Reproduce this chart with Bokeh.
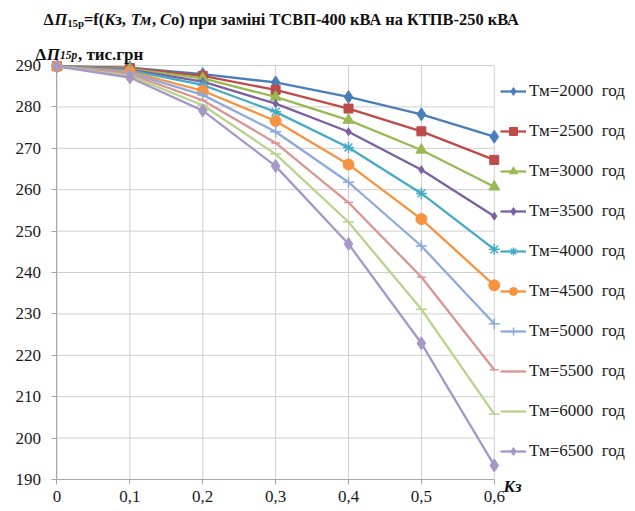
from bokeh.plotting import figure
from bokeh.models import Range1d, FixedTicker, Label, Legend, LegendItem
from bokeh.embed import file_html
from bokeh.resources import INLINE

# ---- data ----
kz = [0, 0.1, 0.2, 0.3, 0.4, 0.5, 0.6]
x_tick_labels = ["0", "0,1", "0,2", "0,3", "0,4", "0,5", "0,6"]
y_ticks = [190, 200, 210, 220, 230, 240, 250, 260, 270, 280, 290]

tm_labels = ["Тм=2000\u00a0 год", "Тм=2500\u00a0 год", "Тм=3000\u00a0 год", "Тм=3500\u00a0 год",
             "Тм=4000\u00a0 год", "Тм=4500\u00a0 год", "Тм=5000\u00a0 год", "Тм=5500\u00a0 год",
             "Тм=6000\u00a0 год", "Тм=6500\u00a0 год"]
tm2000 = [289.8, 289.5, 287.9, 285.9, 282.4, 278.2, 272.8]
tm2500 = [289.8, 289.4, 287.5, 284.1, 279.6, 274.1, 267.2]
tm3000 = [289.8, 289.2, 286.9, 282.4, 276.8, 269.6, 260.7]
tm3500 = [289.8, 289.0, 286.1, 280.8, 274.0, 264.8, 253.6]
tm4000 = [289.8, 288.8, 285.3, 278.8, 270.2, 259.1, 245.6]
tm4500 = [289.8, 288.5, 283.9, 276.6, 266.1, 252.9, 236.9]
tm5000 = [289.8, 288.2, 282.9, 274.0, 261.8, 246.4, 227.6]
tm5500 = [289.8, 287.9, 281.6, 271.3, 256.9, 238.9, 216.5]
tm6000 = [289.8, 287.5, 280.4, 268.6, 252.2, 231.1, 205.8]
tm6500 = [289.8, 287.1, 279.1, 265.7, 246.9, 222.9, 193.4]
series = [tm2000, tm2500, tm3000, tm3500, tm4000, tm4500, tm5000, tm5500, tm6000, tm6500]

# ---- styles ----
colors = ["#4A7EBB", "#BE4B48", "#98B954", "#7D60A0", "#46AAC5",
          "#F69240", "#8EA9DB", "#D99593", "#B9D38C", "#A797C8"]
markers = ["diamond", "square", "triangle", "diamond", "asterisk",
           "circle", "cross", "dash", "dash", "diamond"]
msizes = [13, 9, 11, 8, 11, 11, 11, 9, 11, 13]
SERIF = "Liberation Serif, Times New Roman, serif"
GRID = "#CFCFCF"
W, H = 635, 511

# frame covers the whole canvas; axes are pinned at x=0 / y=190
p = figure(width=W, height=H, min_border=0,
           x_range=Range1d(-0.0775, 0.7938), y_range=Range1d(182.27, 305.70),
           output_backend="svg", toolbar_location=None)
p.outline_line_color = None
p.xgrid.visible = False
p.ygrid.visible = False

# grid
p.segment(x0=kz, y0=[y_ticks[0]] * len(kz), x1=kz, y1=[y_ticks[-1]] * len(kz),
          line_color=GRID, line_width=1)
p.segment(x0=[kz[0]] * len(y_ticks), y0=y_ticks, x1=[kz[-1]] * len(y_ticks), y1=y_ticks,
          line_color=GRID, line_width=1)

for ax in (p.xaxis[0], p.yaxis[0]):
    ax.axis_line_color = "#A8A8A8"
    ax.major_tick_in = 0
    ax.major_tick_out = 5
    ax.minor_tick_line_color = None
    ax.major_tick_line_color = "#A8A8A8"
    ax.major_label_text_font = SERIF
    ax.major_label_text_font_size = "17px"
    ax.major_label_text_color = "#1a1a1a"

p.xaxis.ticker = FixedTicker(ticks=kz)
p.xaxis.major_label_overrides = dict(zip(kz, x_tick_labels))
p.xaxis.bounds = (kz[0], kz[-1])
p.xaxis.fixed_location = y_ticks[0]
p.xaxis.major_label_standoff = 7
p.yaxis.ticker = FixedTicker(ticks=y_ticks)
p.yaxis.bounds = (y_ticks[0], y_ticks[-1])
p.yaxis.fixed_location = kz[0]
p.yaxis.major_label_standoff = 11

items = []
for vals, col, mk, ms, lab in zip(series, colors, markers, msizes, tm_labels):
    lr = p.line(kz, vals, line_color=col, line_width=2.3)
    sr = p.scatter(kz, vals, marker=mk, size=ms, fill_color=col, line_color=col,
                   line_width=1.5 if mk in ("cross", "asterisk", "dash") else 1)
    items.append(LegendItem(label=lab, renderers=[lr, sr]))

legend = Legend(items=items, location=(500, 50), glyph_width=26, glyph_height=20,
                label_height=20, spacing=20, padding=0, margin=0, label_standoff=3,
                border_line_color=None, background_fill_alpha=0,
                label_text_font=SERIF, label_text_font_size="17px", label_text_color="#1a1a1a")
p.add_layout(legend)


def lab(txt, cx, cy, size="16.4px", style="bold"):
    p.add_layout(Label(x=cx, y=H - cy, x_units="screen", y_units="screen", text=txt,
                       text_font=SERIF, text_font_size=size, text_font_style=style,
                       text_baseline="alphabetic", text_align="left", text_color="#111111"))


# title (pieces chained left to right)
lab("Δ", 43, 19)
lab("П", 53.9, 19, style="bold italic")
lab("15р", 66.7, 22, size="10.8px")
lab("=f(", 83.5, 19)
lab("К", 103.8, 19, style="bold italic")
lab("з, ", 114.7, 19)
lab("Тм", 130.2, 19, style="bold italic")
lab(", ", 151.4, 19)
lab("С", 159.6, 19, style="bold italic")
lab("о) при заміні ТСВП-400 кВА на КТПВ-250 кВА", 170.5, 19)

# y-axis title
lab("Δ", 35, 54, size="17px")
lab("П", 46.3, 54, size="17px", style="bold italic")
lab("15р", 59.5, 54, size="11.5px", style="bold italic")
lab(", тис.грн", 77.4, 54, size="17px")

# x-axis title
lab("Кз", 503, 486, size="17px", style="bold italic")

open("out.html", "w").write(file_html(p, INLINE))
